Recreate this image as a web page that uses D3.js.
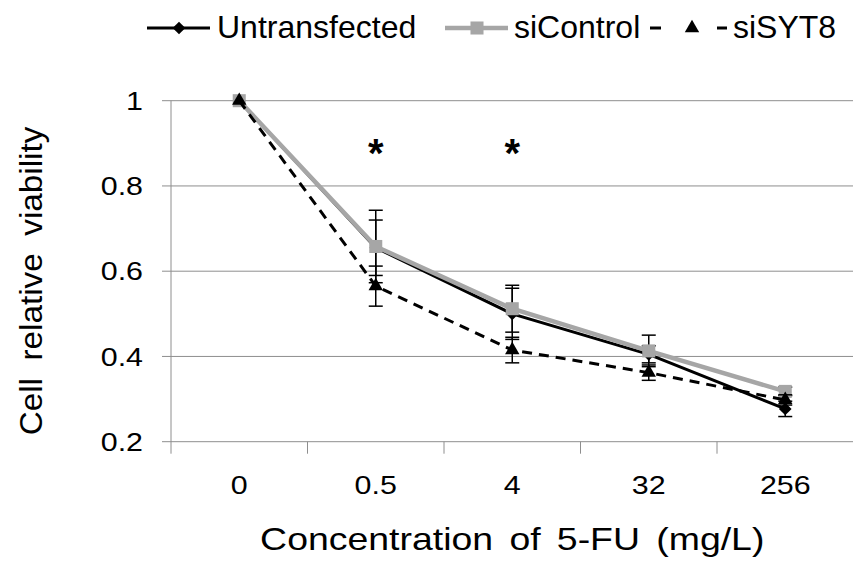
<!DOCTYPE html>
<html>
<head>
<meta charset="utf-8">
<script src="https://cdn.jsdelivr.net/npm/d3@7"></script>
<style>
  body { margin: 0; background: #fff; }
  text { font-family: Arial, "Liberation Sans", sans-serif; fill: #000; }
</style>
</head>
<body>
<div class="main-container"></div>
<script>
// concentrations of 5-FU (mg/L)
const doses = ["0", "0.5", "4", "32", "256"];
const yTicks = [0.2, 0.4, 0.6, 0.8, 1];

const untransfected = [1.0, 0.655, 0.50, 0.405, 0.277];
const untransfectedErr = [0, 0.065, 0.06, 0.02, 0.018];
const siControl = [1.0, 0.658, 0.512, 0.413, 0.318];
const siControlErr = [0, 0.085, 0.055, 0.037, 0.01];
const siSYT8 = [1.0, 0.565, 0.415, 0.362, 0.298];
const siSYT8Err = [0, 0.047, 0.03, 0.018, 0.012];

// significance marks
const starDoses = ["0.5", "4"];
const starLevel = 0.915;

const width = 853, height = 565;
const margin = {top: 100.7, right: 0, bottom: 565 - 441.7, left: 171};

const svg = d3.select(".main-container")
  .append("svg")
  .attr("width", width)
  .attr("height", height);

let x = d3.scaleBand()
  .domain(doses)
  .range([margin.left, 853.5]);

let y = d3.scaleLinear()
  .domain([0.2, 1])
  .range([height - margin.bottom, margin.top]);

// text in the original is a bit wider than Arial
const stretch = 1.17;

// grid
svg.append("g")
  .selectAll("line")
  .data(yTicks)
  .join("line")
  .attr("x1", margin.left - 9)
  .attr("x2", width)
  .attr("y1", d => y(d))
  .attr("y2", d => y(d))
  .attr("stroke", "#8e8e8e")
  .attr("stroke-width", 1);

// y axis line
svg.append("line")
  .attr("x1", margin.left).attr("x2", margin.left)
  .attr("y1", y(1)).attr("y2", y(0.2))
  .attr("stroke", "#8e8e8e");

// x ticks between categories
svg.append("g")
  .selectAll("line")
  .data(doses)
  .join("line")
  .attr("x1", d => x(d))
  .attr("x2", d => x(d))
  .attr("y1", y(0.2))
  .attr("y2", y(0.2) + 12)
  .attr("stroke", "#8e8e8e");

// tick labels
svg.append("g")
  .selectAll("text")
  .data(yTicks)
  .join("text")
  .attr("transform", d => `translate(143,${y(d)})scale(${stretch},1)`)
  .attr("dy", "0.35em")
  .attr("text-anchor", "end")
  .style("font-size", "26px")
  .text(d => d);

const cx = d => x(d) + x.bandwidth() / 2;

svg.append("g")
  .selectAll("text")
  .data(doses)
  .join("text")
  .attr("transform", d => `translate(${cx(d)},494)scale(${stretch},1)`)
  .attr("text-anchor", "middle")
  .style("font-size", "26px")
  .text(d => d);

// axis titles
svg.append("text")
  .attr("transform", `translate(${cx("4")},550)scale(${stretch},1)`)
  .attr("text-anchor", "middle")
  .style("font-size", "32px")
  .style("word-spacing", "5px")
  .text("Concentration of 5-FU (mg/L)");

svg.append("text")
  .attr("transform", "translate(42,281)rotate(-90)scale(1.04,1)")
  .attr("text-anchor", "middle")
  .style("font-size", "32px")
  .style("word-spacing", "8px")
  .text("Cell relative viability");

const diamond = d3.symbol().type(d3.symbolSquare).size(80);
const square = d3.symbol().type(d3.symbolSquare).size(170);
const triangle = d3.symbol().type(d3.symbolTriangle).size(90);

const series = [
  {name: "Untransfected", values: untransfected, err: untransfectedErr,
   color: "#000", width: 3, dash: null, marker: diamond, rot: 45},
  {name: "siControl", values: siControl, err: siControlErr,
   color: "#a6a6a6", width: 4.5, dash: null, marker: square, rot: 0},
  {name: "siSYT8", values: siSYT8, err: siSYT8Err,
   color: "#000", width: 3, dash: "10,7", marker: triangle, rot: 0}
];

const line = d3.line()
  .x((d, i) => cx(doses[i]))
  .y(d => y(d));

series.forEach(s => {
  const g = svg.append("g");

  // error bars
  const eb = g.selectAll("g.err")
    .data(s.values.map((v, i) => ({dose: doses[i], v: v, e: s.err[i]})).filter(d => d.e > 0))
    .join("g");
  eb.append("line")
    .attr("x1", d => cx(d.dose)).attr("x2", d => cx(d.dose))
    .attr("y1", d => y(d.v + d.e)).attr("y2", d => y(d.v - d.e))
    .attr("stroke", "#000").attr("stroke-width", 1.5);
  [1, -1].forEach(sg => {
    eb.append("line")
      .attr("x1", d => cx(d.dose) - 7).attr("x2", d => cx(d.dose) + 7)
      .attr("y1", d => y(d.v + sg * d.e)).attr("y2", d => y(d.v + sg * d.e))
      .attr("stroke", "#000").attr("stroke-width", 1.5);
  });

  g.append("path")
    .datum(s.values)
    .attr("fill", "none")
    .attr("stroke", s.color)
    .attr("stroke-width", s.width)
    .attr("stroke-dasharray", s.dash)
    .attr("d", line);

  g.selectAll("path.mk")
    .data(s.values)
    .join("path")
    .attr("class", "mk")
    .attr("d", s.marker)
    .attr("fill", s.color)
    .attr("transform", (d, i) => `translate(${cx(doses[i])},${y(d)})rotate(${s.rot})`);
});

// asterisks
svg.append("g")
  .selectAll("text")
  .data(starDoses)
  .join("text")
  .attr("x", d => cx(d))
  .attr("y", y(starLevel))
  .attr("dy", "0.75em")
  .attr("text-anchor", "middle")
  .style("font-size", "40px")
  .style("font-weight", "bold")
  .text("*");

// legend
const legend = [
  {s: series[0], x0: 147, x1: 210, mx: 179, tx: 217, dash: null},
  {s: series[1], x0: 445, x1: 508, mx: 477, tx: 514, dash: null},
  {s: series[2], x0: 650, x1: 727, mx: 692, tx: 733, dash: "11,56"}
];
const lg = svg.append("g").selectAll("g").data(legend).join("g");
lg.append("line")
  .attr("x1", d => d.x0).attr("x2", d => d.x1)
  .attr("y1", 28).attr("y2", 28)
  .attr("stroke", d => d.s.color)
  .attr("stroke-width", d => d.s.width)
  .attr("stroke-dasharray", d => d.dash);
lg.append("path")
  .attr("d", d => d.s.marker())
  .attr("fill", d => d.s.color)
  .attr("transform", d => `translate(${d.mx},28)rotate(${d.s.rot})`);
lg.append("text")
  .attr("x", d => d.tx)
  .attr("y", 38)
  .style("font-size", "32px")
  .text(d => d.s.name);
</script>
</body>
</html>
